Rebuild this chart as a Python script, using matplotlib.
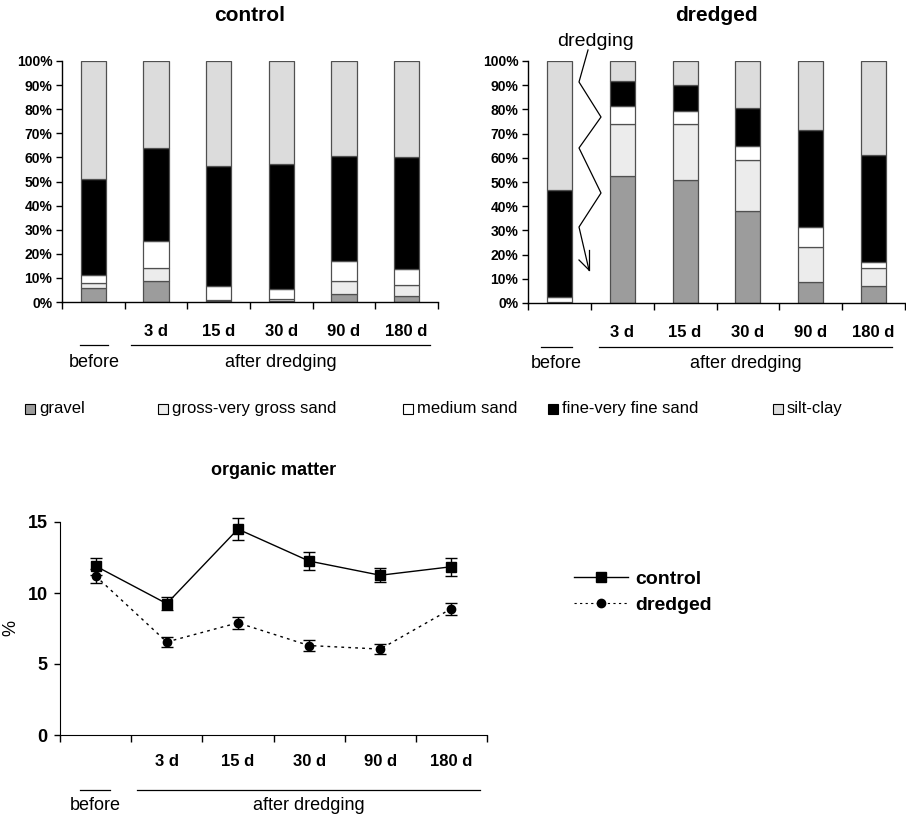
import matplotlib
matplotlib.use("Agg")
import matplotlib.pyplot as plt
import numpy as np
from matplotlib.transforms import blended_transform_factory
from matplotlib.patches import Rectangle
from matplotlib.lines import Line2D

plt.rcParams['font.family'] = ['Liberation Sans', 'DejaVu Sans']

# ---------------- data ----------------
categories = ["", "3 d", "15 d", "30 d", "90 d", "180 d"]
fractions = ["gravel", "gross-very gross sand", "medium sand", "fine-very fine sand", "silt-clay"]

control_gravel = [6.0, 8.7, 0.3, 0.5, 3.2, 2.4]
control_gross = [2.0, 5.3, 0.5, 0.6, 5.5, 4.5]
control_medium = [3.0, 11.2, 5.8, 4.4, 8.2, 6.8]
control_fine = [40.0, 38.6, 50.0, 51.6, 43.8, 46.3]
control_silt = [49.0, 36.2, 43.4, 42.9, 39.3, 40.0]

dredged_gravel = [0.0, 52.4, 50.8, 38.2, 8.8, 7.2]
dredged_gross = [0.3, 21.4, 23.0, 20.7, 14.2, 7.1]
dredged_medium = [2.3, 7.7, 5.4, 5.8, 8.6, 2.5]
dredged_fine = [44.0, 10.1, 10.9, 15.9, 40.0, 44.2]
dredged_silt = [53.4, 8.4, 9.9, 19.4, 28.4, 39.0]

om_control = [11.9, 9.25, 14.5, 12.25, 11.25, 11.85]
om_control_err = [0.6, 0.45, 0.75, 0.65, 0.5, 0.62]
om_dredged = [11.2, 6.55, 7.9, 6.3, 6.05, 8.9]
om_dredged_err = [0.5, 0.35, 0.4, 0.36, 0.35, 0.43]

yticklabels_pct = ["0%", "10%", "20%", "30%", "40%", "50%", "60%", "70%", "80%", "90%", "100%"]

# ---------------- style ----------------
fills = ['#9c9c9c', '#ececec', 'white', 'black', '#dcdcdc']
edge = '#505050'

W, H = 906, 818
fig = plt.figure(figsize=(W / 100, H / 100), dpi=100)


def fx(px):
    return px / W


def fy(py):
    return 1 - py / H


def bar_panel(rect, series, title):
    ax = fig.add_axes(rect)
    x = np.arange(len(categories))
    bottom = np.zeros(len(categories))
    for vals, fc in zip(series, fills):
        v = np.array(vals)
        ax.bar(x, v, width=0.4, bottom=bottom, color=fc, edgecolor=edge,
               linewidth=0.9, zorder=2)
        bottom += v
    ax.set_xlim(-0.5, 5.5)
    ax.set_ylim(0, 100)
    ax.set_yticks(np.arange(0, 101, 10))
    ax.set_yticklabels(yticklabels_pct, fontweight='bold', fontsize=10)
    ax.set_xticks(np.arange(-0.5, 6.0, 1.0))
    ax.set_xticklabels([])
    ax.tick_params(axis='x', direction='out', length=5, width=1)
    ax.tick_params(axis='y', direction='out', length=4, width=1, pad=3)
    ax.set_xticks(x, minor=True)
    ax.set_xticklabels(categories, minor=True, fontweight='bold', fontsize=12)
    ax.tick_params(axis='x', which='minor', length=0, pad=16)
    for s in ['top', 'right']:
        ax.spines[s].set_visible(False)
    ax.spines['left'].set_linewidth(1.0)
    ax.spines['bottom'].set_linewidth(1.0)
    ax.set_title(title, fontweight='bold', fontsize=15, pad=29)
    return ax


def group_labels(ax, before_span, after_span, yline, ytext):
    tr = blended_transform_factory(ax.transData, ax.transAxes)
    ax.plot(before_span, [yline, yline], color='black', lw=0.9, transform=tr, clip_on=False)
    ax.plot(after_span, [yline, yline], color='black', lw=0.9, transform=tr, clip_on=False)
    ax.text(np.mean(before_span), ytext, "before", transform=tr, ha='center', va='center', fontsize=13)
    ax.text(np.mean(after_span), ytext, "after dredging", transform=tr, ha='center', va='center', fontsize=13)


ax1 = bar_panel([fx(62), fy(302), fx(438) - fx(62), fy(61) - fy(302)],
                [control_gravel, control_gross, control_medium, control_fine, control_silt],
                "control")
group_labels(ax1, [-0.22, 0.24], [0.6, 5.37], -0.18, -0.25)

ax2 = bar_panel([fx(528), fy(303), fx(905) - fx(528), fy(61) - fy(303)],
                [dredged_gravel, dredged_gross, dredged_medium, dredged_fine, dredged_silt],
                "dredged")
group_labels(ax2, [-0.3, 0.2], [0.63, 5.3], -0.18, -0.25)

# dredging zigzag arrow
zx = [588, 579, 601, 579, 601, 579, 589]
zy = [50, 82, 117, 148, 193, 227, 270]
fig.add_artist(Line2D([fx(v) for v in zx], [fy(v) for v in zy], color='black', lw=0.9))
fig.add_artist(Line2D([fx(589), fx(589)], [fy(250), fy(270)], color='black', lw=0.9))
fig.add_artist(Line2D([fx(579), fx(589)], [fy(260), fy(270)], color='black', lw=0.9))
fig.text(fx(596), fy(42), "dredging", ha='center', va='center', fontsize=14)

# legend for bars (manual placement)
leg_x = [25, 158, 403, 548, 773]
for xp, fc, lab in zip(leg_x, fills, fractions):
    fig.add_artist(Rectangle((fx(xp), fy(414)), fx(10), 10 / H, transform=fig.transFigure,
                             facecolor=fc, edgecolor='black', linewidth=0.8))
    fig.text(fx(xp + 14), fy(408), lab, ha='left', va='center', fontsize=12)

# organic matter line chart
ax3 = fig.add_axes([fx(60), fy(735), fx(487) - fx(60), fy(522) - fy(735)])
xl = np.arange(len(categories))
ax3.errorbar(xl, om_control, yerr=om_control_err, color='black', lw=1.0, marker='s',
             markersize=7, capsize=4, elinewidth=1.0, capthick=1.0, clip_on=False,
             label='control', zorder=3)
ax3.errorbar(xl, om_dredged, yerr=om_dredged_err, color='black', lw=1.0, ls=(0, (2, 3)),
             marker='o', markersize=6, capsize=4, elinewidth=1.0, capthick=1.0,
             clip_on=False, label='dredged', zorder=3)
ax3.set_xlim(-0.5, 5.5)
ax3.set_ylim(0, 15)
ax3.set_yticks([0, 5, 10, 15])
ax3.set_yticklabels(["0", "5", "10", "15"], fontweight='bold', fontsize=13)
ax3.tick_params(axis='y', direction='out', length=4, width=1, pad=5)
ax3.set_xticks(np.arange(-0.5, 6.0, 1.0))
ax3.set_xticklabels([])
ax3.tick_params(axis='x', direction='out', length=5, width=1)
ax3.set_xticks(xl, minor=True)
ax3.set_xticklabels(categories, minor=True, fontweight='bold', fontsize=12)
ax3.tick_params(axis='x', which='minor', length=0, pad=14)
for s in ['top', 'right']:
    ax3.spines[s].set_visible(False)
ax3.set_ylabel("%", fontsize=13)
ax3.yaxis.set_label_coords(-0.095, 0.5)
ax3.set_title("organic matter", fontweight='bold', fontsize=13, pad=34)
group_labels(ax3, [-0.22, 0.2], [0.58, 5.4], -0.26, -0.33)

leg_handles = [Line2D([], [], color='black', lw=1.0, marker='s', markersize=7),
               Line2D([], [], color='black', lw=0.8, ls=(0, (2, 3)), marker='o', markersize=6)]
fig.legend(leg_handles, ['control', 'dredged'], loc='upper left',
           bbox_to_anchor=(fx(556), fy(553)), frameon=False,
           prop={'weight': 'bold', 'size': 14},
           handlelength=2.8, handletextpad=0.4, labelspacing=0.4)

fig.savefig("out.png", dpi=100)
